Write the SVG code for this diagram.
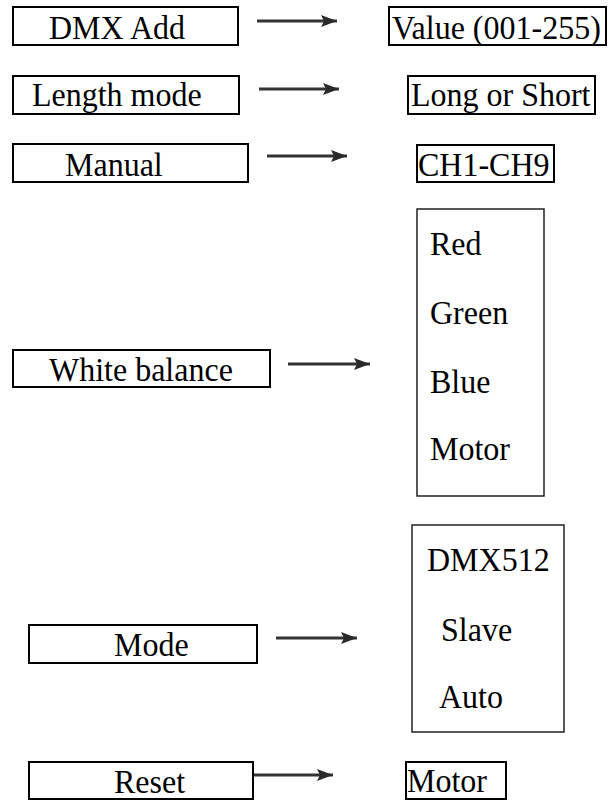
<svg xmlns="http://www.w3.org/2000/svg" width="608" height="800" viewBox="0 0 608 800">
<defs>
<style>
.box{fill:#fff;stroke:#000;stroke-width:2}
.tall{fill:#fff;stroke:#222;stroke-width:1.5}
.t{font-family:"Liberation Serif","Times New Roman",serif;font-size:32px;fill:#000}
.c{text-anchor:middle}
.arr{stroke:#333;stroke-width:2.8;fill:none}
</style>
<marker id="ah" markerUnits="userSpaceOnUse" markerWidth="17" markerHeight="14" refX="16" refY="7" orient="auto">
<path d="M0,1 L16,7 L0,13 L3,7 Z" fill="#2a2a2a"/>
</marker>
</defs>
<rect width="608" height="800" fill="#fff"/>
<g id="n-dmxadd"><rect class="box" x="13" y="7" width="225" height="38"/><text class="t c" transform="translate(117 39) scale(1 1.08)">DMX Add</text></g>
<g id="n-value"><rect class="box" x="389" y="7" width="217" height="38"/><text class="t" transform="translate(392 39) scale(1 1.08)">Value (001-255)</text></g>
<g id="n-length"><rect class="box" x="13" y="76" width="226" height="38"/><text class="t" transform="translate(32 106) scale(1 1.08)">Length mode</text></g>
<g id="n-longshort"><rect class="box" x="408" y="76" width="187" height="38"/><text class="t" transform="translate(411 106) scale(1 1.08)">Long or Short</text></g>
<g id="n-manual"><rect class="box" x="13" y="144" width="235" height="38"/><text class="t" transform="translate(65 176) scale(1 1.08)">Manual</text></g>
<g id="n-ch"><rect class="box" x="417" y="145" width="137" height="37"/><text class="t" transform="translate(418 176) scale(1 1.08)">CH1-CH9</text></g>
<g id="n-wb"><rect class="box" x="13" y="350" width="257" height="37"/><text class="t" transform="translate(49 381) scale(1 1.08)">White balance</text></g>
<g id="n-rgbm"><rect class="tall" x="417" y="209" width="127" height="287"/>
<text class="t" transform="translate(430 255) scale(1 1.08)">Red</text>
<text class="t" transform="translate(430 324) scale(1 1.08)">Green</text>
<text class="t" transform="translate(430 393) scale(1 1.08)">Blue</text>
<text class="t" transform="translate(430 460) scale(1 1.08)">Motor</text></g>
<g id="n-mode"><rect class="box" x="29" y="625" width="228" height="38"/><text class="t" transform="translate(114 656) scale(1 1.08)">Mode</text></g>
<g id="n-modes"><rect class="tall" x="412" y="525" width="152" height="207"/>
<text class="t" transform="translate(427 571) scale(1 1.08)">DMX512</text>
<text class="t" transform="translate(441 641) scale(1 1.08)">Slave</text>
<text class="t" transform="translate(439 708) scale(1 1.08)">Auto</text></g>
<g id="n-reset"><rect class="box" x="29" y="762" width="224" height="37"/><text class="t" transform="translate(114 793) scale(1 1.08)">Reset</text></g>
<g id="n-motor"><rect class="box" x="406" y="762" width="100" height="37"/><text class="t" transform="translate(407 792) scale(1 1.08)">Motor</text></g>
<g id="connectors">
<line class="arr" x1="257" y1="21" x2="337" y2="21" marker-end="url(#ah)"/>
<line class="arr" x1="259" y1="89" x2="339" y2="89" marker-end="url(#ah)"/>
<line class="arr" x1="267" y1="156" x2="347" y2="156" marker-end="url(#ah)"/>
<line class="arr" x1="288" y1="364" x2="370" y2="364" marker-end="url(#ah)"/>
<line class="arr" x1="276" y1="638" x2="357" y2="638" marker-end="url(#ah)"/>
<line class="arr" x1="254" y1="775" x2="333" y2="775" marker-end="url(#ah)"/>
</g>
</svg>
